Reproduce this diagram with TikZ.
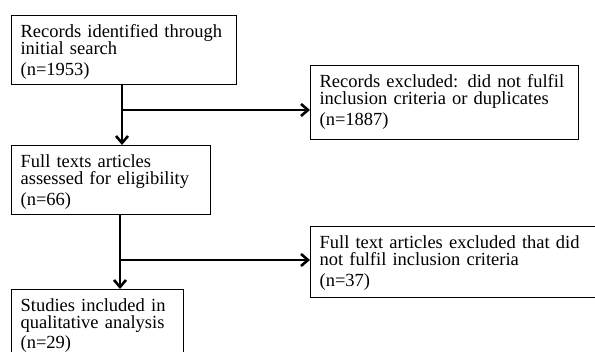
\documentclass[tikz,border=0pt]{standalone}
\usepackage{fontspec}
\setmainfont{Liberation Serif}
\usetikzlibrary{arrows.meta,positioning,calc}
\newcommand{\botpad}[1]{\rule[-#1]{0pt}{#1}}
\tikzset{
  every picture/.style={line width=1.2pt},
  box/.style={draw=black, fill=white, anchor=north west, align=left, inner xsep=9pt, inner ysep=0pt,
    font=\fontsize{18.5}{17}\selectfont, execute at begin node={\rule{0pt}{22pt}}},
  flow/.style={-{Straight Barb[length=7pt,width=12pt]}, line width=2.6pt},
}
\begin{document}
\begin{tikzpicture}[x=1pt, y=-1pt]
\fill[white] (0,0) rectangle (595,352);
\clip (0,0) rectangle (595,352);
\node[box, text width=207pt] (found) at (11,15) {Records identified through\\ initial search\\[4pt] (n=1953)\botpad{9pt}};
\node[box, text width=250pt] (excl) at (310,65) {Records excluded: did not fulfil\\ inclusion criteria or duplicates\\[4pt] (n=1887)\botpad{14pt}};
\node[box, text width=181pt] (full) at (11,145) {Full texts articles\\ assessed for eligibility\\[4pt] (n=66)\botpad{9pt}};
\node[box, text width=280pt] (exclft) at (310,226) {Full text articles excluded that did\\ not fulfil inclusion criteria\\[4pt] (n=37)\botpad{11pt}};
\node[box, text width=154pt] (incl) at (11,289) {Studies included in\\ qualitative analysis\\[3pt] (n=29)\botpad{10pt}};
% junctions where the side arrows leave the main line
\coordinate (j1) at (122,110);
\coordinate (j2) at (120,260);
\draw[flow] (j1 |- found.south) -- (j1 |- full.north);
\draw[flow] (j1) -- (j1 -| excl.west);
\draw[flow] (j2 |- full.south) -- (j2 |- incl.north);
\draw[flow] (j2) -- (j2 -| exclft.west);
\end{tikzpicture}
\end{document}
